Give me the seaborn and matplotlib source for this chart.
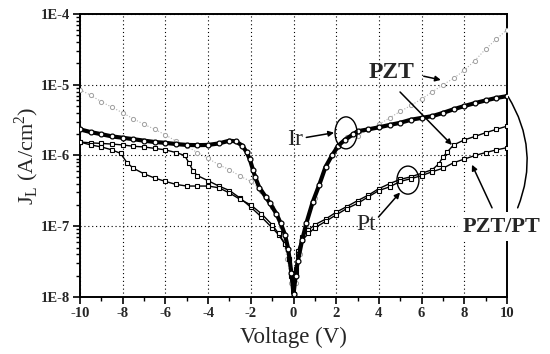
import numpy as np
import matplotlib
matplotlib.use('Agg')
import matplotlib.pyplot as plt
import seaborn as sns
from matplotlib.patches import Ellipse
from matplotlib.ticker import MultipleLocator, LogLocator, FixedLocator, FuncFormatter

# PZT on Ir (grey)
v_pzt_ir = [-10, -9.5, -9, -8.5, -8, -7.5, -7, -6.5, -6, -5.5, -5, -4.5, -4, -3.5, -3, -2.5, -2, -1.5, -1,
            -0.6, -0.3, -0.1, 0, 0.1, 0.3, 0.6, 1, 1.5, 2, 2.5, 3, 3.5, 4, 4.5, 5, 5.5, 6, 6.5, 7, 7.5,
            8, 8.5, 9, 9.5, 10]
j_pzt_ir = [8.5e-6, 7.1e-6, 5.75e-6, 4.8e-6, 4.0e-6, 3.3e-6, 2.75e-6, 2.35e-6, 1.95e-6, 1.6e-6, 1.35e-6,
            1.1e-6, 9.1e-7, 7.4e-7, 6.3e-7, 5.1e-7, 4.3e-7, 3.2e-7, 1.9e-7, 1.0e-7, 3.5e-8, 1.6e-8, 1.1e-8,
            1.6e-8, 4.0e-8, 1.0e-7, 2.5e-7, 7.1e-7, 1.26e-6, 1.8e-6, 1.9e-6, 2.3e-6, 2.75e-6, 3.4e-6,
            4.2e-6, 5.1e-6, 6.3e-6, 7.9e-6, 1.0e-5, 1.23e-5, 1.6e-5, 2.2e-5, 3.2e-5, 4.4e-5, 6.0e-5]

# PZT/PT on Ir (thick black)
v_pzpt_ir = [-10, -9.5, -9, -8.5, -8, -7.5, -7, -6.5, -6, -5.5, -5, -4.5, -4, -3.5, -3, -2.7, -2.4, -2.2,
             -2.05, -1.9, -1.8, -1.6, -1.3, -1.1, -0.8, -0.6, -0.4, -0.25, -0.1, 0, 0.1, 0.2, 0.4, 0.6,
             0.9, 1.2, 1.5, 1.8, 2.1, 2.4, 2.8, 3, 3.5, 4, 4.5, 5, 5.5, 6, 6.5, 7, 7.5, 8, 8.5, 9, 9.5, 10]
j_pzpt_ir = [2.34e-6, 2.14e-6, 2.0e-6, 1.86e-6, 1.78e-6, 1.7e-6, 1.62e-6, 1.55e-6, 1.51e-6, 1.45e-6,
             1.41e-6, 1.4e-6, 1.41e-6, 1.48e-6, 1.62e-6, 1.58e-6, 1.38e-6, 1.12e-6, 8.9e-7, 6.3e-7, 5.0e-7,
             3.5e-7, 2.6e-7, 2.1e-7, 1.5e-7, 1.1e-7, 7.6e-8, 4.8e-8, 2.2e-8, 1.1e-8, 2.0e-8, 3.2e-8, 6.3e-8,
             1.1e-7, 2.2e-7, 3.8e-7, 6.9e-7, 1.0e-6, 1.38e-6, 1.66e-6, 2.0e-6, 2.2e-6, 2.34e-6, 2.5e-6,
             2.7e-6, 2.9e-6, 3.2e-6, 3.4e-6, 3.6e-6, 4.0e-6, 4.5e-6, 5.0e-6, 5.5e-6, 6.0e-6, 6.5e-6, 6.9e-6]

# PZT on Pt
v_pzt_pt = [-10, -9.5, -9, -8.5, -8, -7.5, -7, -6.5, -6, -5.5, -5.1, -4.9, -4.7, -4.5, -4, -3.5, -3, -2.5,
            -2, -1.5, -1, -0.7, -0.4, -0.2, -0.1, 0, 0.1, 0.2, 0.4, 0.7, 1, 1.5, 2, 2.5, 3, 3.5, 4, 4.5, 5,
            5.5, 6, 6.5, 6.8, 7, 7.2, 7.5, 8, 8.5, 9, 9.5, 10]
j_pzt_pt = [1.55e-6, 1.51e-6, 1.48e-6, 1.45e-6, 1.41e-6, 1.35e-6, 1.32e-6, 1.26e-6, 1.2e-6, 1.1e-6, 1.0e-6,
            7.9e-7, 6.0e-7, 5.2e-7, 4.4e-7, 3.7e-7, 3.2e-7, 2.5e-7, 1.86e-7, 1.35e-7, 9.5e-8, 7.6e-8, 5.6e-8,
            3.5e-8, 2.2e-8, 1.1e-8, 2.5e-8, 4.5e-8, 7.1e-8, 8.9e-8, 1.05e-7, 1.26e-7, 1.58e-7, 1.9e-7,
            2.3e-7, 2.75e-7, 3.4e-7, 4.0e-7, 4.6e-7, 5.0e-7, 5.6e-7, 6.3e-7, 7.6e-7, 9.5e-7, 1.12e-6,
            1.41e-6, 1.66e-6, 1.86e-6, 2.1e-6, 2.34e-6, 2.6e-6]

# PZT/PT on Pt
v_pzpt_pt = [-10, -9.5, -9, -8.5, -8.1, -7.8, -7.5, -7, -6.5, -6, -5.5, -5, -4.5, -4, -3.5, -3, -2.5, -2,
             -1.5, -1, -0.7, -0.4, -0.2, -0.1, 0, 0.1, 0.2, 0.4, 0.7, 1, 1.5, 2, 2.5, 3, 3.5, 4, 4.5, 5,
             5.5, 6, 6.5, 7, 7.5, 8, 8.5, 9, 9.5, 10]
j_pzpt_pt = [1.55e-6, 1.41e-6, 1.32e-6, 1.2e-6, 1.07e-6, 7.9e-7, 6.6e-7, 5.5e-7, 4.8e-7, 4.3e-7, 3.9e-7,
             3.7e-7, 3.7e-7, 3.7e-7, 3.5e-7, 2.95e-7, 2.4e-7, 2.0e-7, 1.5e-7, 1.05e-7, 7.9e-8, 5.6e-8, 3.5e-8,
             2.0e-8, 1.1e-8, 2.2e-8, 4.0e-8, 6.3e-8, 7.9e-8, 9.5e-8, 1.17e-7, 1.45e-7, 1.78e-7, 2.1e-7,
             2.6e-7, 3.2e-7, 3.6e-7, 4.3e-7, 4.7e-7, 5.2e-7, 5.9e-7, 6.6e-7, 7.9e-7, 8.9e-7, 1.0e-6, 1.1e-6,
             1.2e-6, 1.29e-6]

y_ticks = [1e-8, 1e-7, 1e-6, 1e-5, 1e-4]
y_ticklabels = ['1E-8', '1E-7', '1E-6', '1E-5', '1E-4']

sns.set_theme(style='ticks')
plt.rcParams['font.family'] = ['Liberation Serif', 'DejaVu Serif']
plt.rcParams['mathtext.fontset'] = 'custom'
plt.rcParams['mathtext.rm'] = 'Liberation Serif'

fig = plt.figure(figsize=(5.5, 3.54), dpi=100)
ax = fig.add_axes([0.1455, 0.161, 0.7763, 0.7995])

sns.lineplot(x=v_pzt_ir, y=j_pzt_ir, ax=ax, sort=False, estimator=None, color='#b0b0b0', lw=0.8,
             linestyle=':', marker='o', markersize=3, markerfacecolor='white', markeredgecolor='#a0a0a0',
             markeredgewidth=0.7, zorder=3)
sns.lineplot(x=v_pzt_pt, y=j_pzt_pt, ax=ax, sort=False, estimator=None, color='black', lw=1.0,
             marker='s', markersize=3, markerfacecolor='white', markeredgecolor='black',
             markeredgewidth=0.8, zorder=4)
sns.lineplot(x=v_pzpt_pt, y=j_pzpt_pt, ax=ax, sort=False, estimator=None, color='black', lw=1.0,
             marker='s', markersize=3, markerfacecolor='white', markeredgecolor='black',
             markeredgewidth=0.8, zorder=4)
sns.lineplot(x=v_pzpt_ir, y=j_pzpt_ir, ax=ax, sort=False, estimator=None, color='black', lw=3.0,
             marker='o', markersize=3.5, markerfacecolor='white', markeredgecolor='black',
             markeredgewidth=0.9, zorder=5)

ax.set_yscale('log')
ax.set_xlim(-10, 10)
ax.set_ylim(1e-8, 1e-4)

ax.xaxis.set_major_locator(MultipleLocator(2))
ax.xaxis.set_minor_locator(MultipleLocator(1))
ax.yaxis.set_major_locator(FixedLocator(y_ticks))
ax.yaxis.set_major_formatter(FuncFormatter(lambda v, p: y_ticklabels[y_ticks.index(v)] if v in y_ticks else ''))
ax.yaxis.set_minor_locator(LogLocator(base=10, subs=np.arange(2, 10), numticks=20))
ax.xaxis.set_major_formatter(FuncFormatter(lambda v, p: '%d' % v))
ax.tick_params(which='major', direction='out', length=5, width=1.2, labelsize=10.5, pad=2, color='black')
ax.tick_params(which='minor', direction='out', length=3, width=1.0, color='black')
for lab in ax.get_xticklabels() + ax.get_yticklabels():
    lab.set_fontweight('bold')

ax.grid(True, which='major', color='black', linestyle=(0, (1, 2.5)), linewidth=0.8)
for s in ax.spines.values():
    s.set_color('black')
    s.set_linewidth(1.4)

ax.set_xlabel('Voltage (V)', fontsize=16.5, labelpad=5)
ax.set_ylabel(r'J$_\mathregular{L}$ (A/cm$^\mathregular{2}$)', fontsize=16, labelpad=0)

# annotations
arrow = dict(arrowstyle='-|>', color='black', lw=1.1, mutation_scale=8, shrinkA=0, shrinkB=0)
ax.text(4.61, 1.5e-5, 'PZT', fontsize=17, fontweight='bold', ha='center', va='center')
ax.annotate('', xy=(6.9, 1.17e-5), xytext=(6.1, 1.32e-5), arrowprops=arrow)
ax.annotate('', xy=(7.42, 1.41e-6), xytext=(4.99, 7.9e-6), arrowprops=arrow)

ax.text(0.07, 1.7e-6, 'Ir', fontsize=17, ha='center', va='center')
ax.annotate('', xy=(1.9, 2.1e-6), xytext=(0.6, 1.8e-6), arrowprops=arrow)
ax.add_patch(Ellipse((0.623, 0.580), 0.0515, 0.113, transform=ax.transAxes, fill=False,
                     edgecolor='black', lw=1.0, zorder=6))

ax.text(3.4, 1.05e-7, 'Pt', fontsize=17, ha='center', va='center')
ax.annotate('', xy=(4.99, 3.0e-7), xytext=(3.98, 1.35e-7), arrowprops=arrow)
ax.add_patch(Ellipse((0.768, 0.413), 0.0515, 0.099, transform=ax.transAxes, fill=False,
                     edgecolor='black', lw=1.0, zorder=6))

ax.text(9.72, 9.8e-8, 'PZT/PT', fontsize=16, fontweight='bold', ha='center', va='center', zorder=10,
        bbox=dict(boxstyle='square,pad=0.2', facecolor='white', edgecolor='none'), clip_on=False)
ax.annotate('', xy=(8.36, 7.4e-7), xytext=(9.3, 1.82e-7), arrowprops=arrow)
ax.annotate('', xy=(10.05, 6.8e-6), xytext=(10.5, 1.82e-7), annotation_clip=False,
            arrowprops=dict(arrowstyle='-', color='black', lw=1.1, shrinkA=0, shrinkB=0,
                            connectionstyle='arc3,rad=0.25'))

fig.savefig('out.png', dpi=100)
